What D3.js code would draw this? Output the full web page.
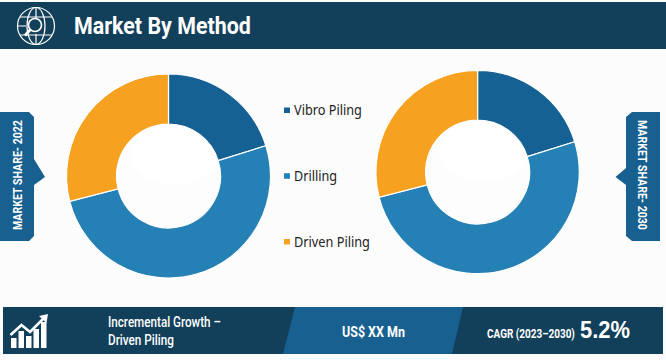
<!DOCTYPE html>
<html>
<head>
<meta charset="utf-8">
<script src="https://cdn.jsdelivr.net/npm/d3@7"></script>
<style>
  html, body { margin: 0; padding: 0; background: #fff; }
  svg { display: block; }
  text { font-family: "Roboto", sans-serif; }
</style>
</head>
<body>
<svg id="chart" width="666" height="360"></svg>
<script>
// --- DATA ---
const methods = ["Vibro Piling", "Drilling", "Driven Piling"];
const share2022 = [20.2, 50.8, 29.0];
const share2030 = [20.2, 50.8, 29.0];
const sideLabels = ["MARKET SHARE- 2022", "MARKET SHARE- 2030"];
const title = "Market By Method";
const growthLines = ["Incremental Growth –", "Driven Piling"];
const growthValue = "US$ XX Mn";
const cagrLabel = "CAGR (2023–2030)";
const cagrValue = "5.2%";

const navy = "#123f5a";
const mid = "#18608f";
const color = d3.scaleOrdinal().domain(methods).range(["#166193", "#2581b5", "#f7a120"]);

const svg = d3.select("#chart");
svg.append("rect").attr("width", 666).attr("height", 360).attr("fill", "#fcfcfc");

// squeezed text, the reference uses a condensed face
// rot is an optional rotation around (x,y), len the wanted width in pixels
function label(parent, x, y, size, weight, len, str, rot = 0, fill = "#fff", family = "Roboto") {
  const t = parent.append("text")
    .attr("fill", fill)
    .attr("font-size", size)
    .attr("font-weight", weight)
    .style("font-family", `'${family}', sans-serif`)
    .text(str);
  const k = len / t.node().getComputedTextLength();
  t.attr("transform", `translate(${x},${y}) rotate(${rot}) scale(${k},1)`);
  return t;
}

// header
svg.append("rect").attr("x", 0).attr("y", 2).attr("width", 666).attr("height", 47).attr("fill", navy);
label(svg, 74, 34, 24.5, 700, 177, title);

const globe = svg.append("g").attr("transform", "translate(36,26)")
  .attr("fill", "none").attr("stroke", "#fff").attr("stroke-width", 1.2);
globe.append("circle").attr("r", 18.5);
globe.append("ellipse").attr("rx", 9).attr("ry", 18.5);
globe.append("path").attr("d", "M-16,-9H16M-18.5,0H-10M-16,9H16M0,-18.5V-8M0,8V18.5");
globe.append("circle").attr("cx", -1).attr("cy", -1).attr("r", 6.5).attr("fill", navy).attr("stroke-width", 1.6);
globe.append("path").attr("d", "M-5.5,3.5L-11,9.5").attr("stroke-width", 2.8);

// donuts
const pie = d3.pie().sort(null);
const arc = d3.arc().innerRadius(52).outerRadius(102);
const arcR = d3.arc().innerRadius(52).outerRadius(101.7);

function drawDonut(values, cx, cy, arcGen, id) {
  const g = svg.append("g").attr("transform", `translate(${cx},${cy})`);
  g.selectAll("path")
    .data(pie(values))
    .join("path")
    .attr("d", arcGen)
    .attr("fill", (d, i) => color(methods[i]))
    .attr("stroke", "#fff")
    .attr("stroke-width", 1.2);
  // faint sheen inside the hole
  g.append("clipPath").attr("id", id).append("circle").attr("r", 51.5);
  g.append("circle").attr("r", 51.5).attr("fill", "#fdfdfd");
  g.append("ellipse").attr("cx", 6).attr("cy", -21).attr("rx", 44).attr("ry", 30)
    .attr("fill", "#fff").attr("clip-path", `url(#${id})`);
}
drawDonut(share2022, 168.5, 176, arc, "hole-a");
drawDonut(share2030, 477.6, 172, arcR, "hole-b");

// legend
const legendY = d3.scalePoint().domain(methods).range([110, 241.5]);
const legendLen = d3.scaleOrdinal().domain(methods).range([68, 43, 76]);
const legend = svg.append("g").selectAll("g").data(methods).join("g")
  .attr("transform", d => `translate(284,${legendY(d)})`);
legend.append("rect").attr("x", 0).attr("y", -2.5).attr("width", 6).attr("height", 5.5)
  .attr("fill", d => color(d));
legend.each(function (d) {
  label(d3.select(this), 10, 5, 14.5, 400, legendLen(d), d, 0, "#222", "Noto Sans");
});

// side tabs
svg.append("path").attr("fill", mid)
  .attr("d", "M0,112H29L34,117V159L45,177L34,185V236L29,241H0Z");
label(svg, 22, 230, 13.5, 700, 110, sideLabels[0], -90);

svg.append("path").attr("fill", mid)
  .attr("d", "M660,112H632L626,117V168L615.5,177L626,185V236L632,241H660Z");
label(svg, 638, 120, 13.5, 700, 110, sideLabels[1], 90);

// footer
svg.append("rect").attr("x", 3).attr("y", 307).attr("width", 660).attr("height", 47).attr("fill", navy);
svg.append("path").attr("fill", mid).attr("d", "M295,307H463L452,354H283Z");

const growthIcon = svg.append("g").attr("fill", "#fff");
[[11, 338], [18.5, 331], [26, 336], [33.5, 329], [41, 322]].forEach(b => {
  growthIcon.append("rect").attr("x", b[0]).attr("y", b[1]).attr("width", 5.5).attr("height", 348 - b[1]);
});
svg.append("path").attr("fill", "none").attr("stroke", "#fff").attr("stroke-width", 2.6)
  .attr("d", "M10.5,335L21.5,325L30,332L44,318");
svg.append("path").attr("fill", "#fff").attr("d", "M39,316L48,314L46.5,323Z");

label(svg, 108, 327, 14, 500, 113, growthLines[0]);
label(svg, 108, 345, 14, 500, 66, growthLines[1]);

label(svg, 342, 337, 15.5, 700, 63, growthValue);
label(svg, 487, 338, 12.5, 700, 88, cagrLabel);
label(svg, 580, 338, 24, 700, 50, cagrValue, 0, "#fff", "Liberation Sans");
</script>
</body>
</html>
